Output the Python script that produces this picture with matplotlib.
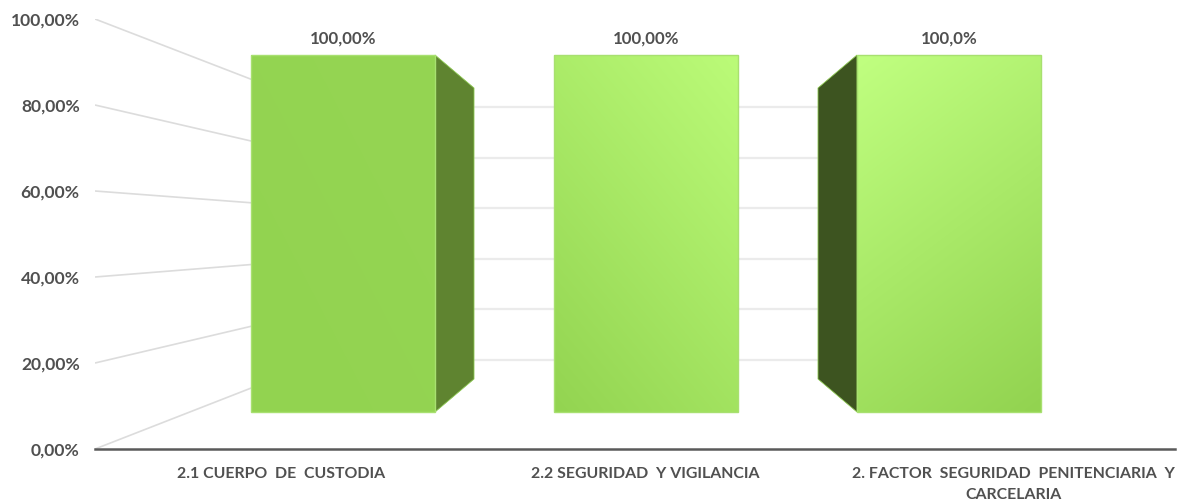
import numpy as np
import matplotlib
matplotlib.use("Agg")
import matplotlib.pyplot as plt
from matplotlib.patches import Polygon

categories = ["2.1 CUERPO  DE  CUSTODIA", "2.2 SEGURIDAD  Y VIGILANCIA",
              "2. FACTOR  SEGURIDAD  PENITENCIARIA  Y\nCARCELARIA"]
values = [100, 100, 100]
value_labels = ["100,00%", "100,00%", "100,0%"]
y_ticks = [0, 20, 40, 60, 80, 100]
y_tick_labels = ["0,00%", "20,00%", "40,00%", "60,00%", "80,00%", "100,00%"]

W, H = 1190, 503
TXT = "#505050"
plt.rcParams["font.family"] = ["Lato", "DejaVu Sans"]
plt.rcParams["font.weight"] = "bold"

fig = plt.figure(figsize=(W / 100, H / 100), dpi=100, facecolor="white")
L, R, T, B = 95, 1175, 19, 449
ax = fig.add_axes([L / W, 1 - B / H, (R - L) / W, (B - T) / H])

# x scale: one category unit = 303 px, first bar centred at 343 px
U = 303.0
X0 = 343.0
px = lambda p: (p - X0) / U
ax.set_xlim(px(L), px(R))
ax.set_ylim(0, 100)

# perspective: front plane of the bars and back wall, in tick-scale units
PY = (B - T) / 100.0
front_base, front_k = (B - 412) / PY, 3.57 / PY
mid_base, mid_k = (B - 379) / PY, 2.91 / PY
wall_base, wall_k = (B - 360) / PY, 2.53 / PY

# walls
for v in y_ticks:
    ax.plot([px(L), px(323)], [v, wall_base + wall_k * v], color="#DCDCDC", lw=1.2, zorder=1,
            solid_capstyle="butt")
    ax.plot([px(436), px(857)], [wall_base + wall_k * v] * 2, color="#EBEBEB", lw=1.6, zorder=1)

width = 184 / U
depth = 39 / U
colors_lo = ["#92D350", "#93D451", "#92D350"]
colors_hi = ["#95D553", "#BBFB78", "#C0FF80"]
# gradient direction per bar: (x weight, y weight)
dirs = [(0.5, 0.5), (0.5, 0.8), (-0.35, 0.9)]
sides = [(1, "#5F8430"), (0, None), (-1, "#3D5420")]
to_rgb = lambda c: np.array(matplotlib.colors.to_rgb(c))

for i, v in enumerate(values):
    x0, x1 = i - width / 2, i + width / 2
    bottom, height = front_base, front_k * v
    s, col = sides[i]
    if s:
        xe = x1 if s > 0 else x0
        ax.add_patch(Polygon(
            [(xe, bottom + height), (xe + s * depth, mid_base + mid_k * v),
             (xe + s * depth, mid_base), (xe, bottom)],
            closed=True, facecolor=col, edgecolor="#8CC850", lw=0.6, zorder=3))
    ax.bar(i, height, width=width, bottom=bottom, facecolor="none",
           edgecolor="#A8E070", linewidth=1.0, zorder=5)
    yy, xx = np.mgrid[0:1:64j, 0:1:64j]
    dx, dy = dirs[i]
    t = dx * (xx if dx > 0 else xx - 1) + dy * yy
    t = (t - t.min()) / (t.max() - t.min())
    lo, hi = to_rgb(colors_lo[i]), to_rgb(colors_hi[i])
    img = lo + (hi - lo) * t[..., None]
    ax.imshow(img, extent=(x0, x1, bottom, bottom + height), origin="lower",
              aspect="auto", zorder=4, interpolation="bilinear")
    ax.text(i + 0.002, bottom + height + 3.9, value_labels[i], ha="center", va="center",
            color=TXT, fontsize=12.2, zorder=6)

ax.set_xlim(px(L), px(R))
ax.set_ylim(0, 100)

for sp in ["top", "right", "left"]:
    ax.spines[sp].set_visible(False)
ax.spines["bottom"].set_color("#5A5A5A")
ax.spines["bottom"].set_linewidth(1.8)

ax.set_yticks(y_ticks, y_tick_labels, color=TXT, fontsize=12.6)
ax.tick_params(axis="y", length=0, pad=11)
label_px = [281, 645, 1013]
ax.set_xticks([px(p) for p in label_px], categories, color=TXT, fontsize=11.4, linespacing=1.62)
ax.tick_params(axis="x", length=0, pad=13)

fig.savefig("out.png", dpi=100, facecolor="white")
